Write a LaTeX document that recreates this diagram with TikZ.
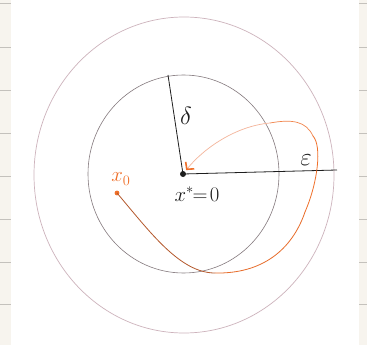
\documentclass[tikz,border=0pt]{standalone}
\usepackage{xcolor}
\usepackage{amsmath}
\usepackage{tikz}
\usetikzlibrary{arrows.meta,positioning}
\definecolor{paper}{HTML}{F7F4EE}
\definecolor{rule}{HTML}{C4C1BC}
\definecolor{inkgray}{HTML}{857A7E}
\definecolor{inkpink}{HTML}{CDB3BC}
\definecolor{ink}{HTML}{1E1E1E}
\definecolor{orangeink}{HTML}{F0702A}
\definecolor{rustink}{HTML}{B4582C}
\definecolor{paleorange}{HTML}{F4B49A}

\begin{document}
\begin{tikzpicture}[x=1pt,y=-1pt]
\useasboundingbox (0,0) rectangle (367,345);
\fill[paper] (0,0) rectangle (367,345);
\fill[white] (11,0) rectangle (359,345);
\foreach \y in {3,47,90,133,176,219,262,304} {
  \draw[rule,line width=0.7pt] (0,\y) -- (11,\y);
  \draw[rule,line width=0.7pt] (359,\y) -- (367,\y);
}
\draw[inkpink,line width=0.7pt] (184,175) ellipse [x radius=150,y radius=158];
\draw[inkgray,line width=0.6pt] (183.5,174) ellipse [x radius=95.5,y radius=99];
\fill[ink] (183,174) circle (3);
\node[inner sep=0pt] (o) at (183,174) {};
\coordinate (dtop) at (168,75);
\coordinate (eend) at (337,170);
\draw[ink,line width=0.8pt] (o.center) -- (dtop);
\draw[ink,line width=0.8pt] (o.center) -- (eend);
\node[font=\fontsize{24}{24}\selectfont,ink] (dlab) at (186,116) {$\delta$};
\node[font=\fontsize{24}{24}\selectfont,ink] (elab) at (306,160) {$\varepsilon$};
\node[font=\fontsize{20}{20}\selectfont,ink] (olab) at (197,194) {$x^{*}\!\!=\!0$};
\fill[orangeink] (117,193) circle (2.4);
\node[inner sep=0pt] (x0) at (117,193) {};
\node[font=\fontsize{20}{20}\selectfont,orangeink] (x0lab) at (121,179) {$x_0$};
\coordinate (t1) at (215,273);
\coordinate (t2) at (305,212);
\coordinate (t3) at (313,136);
\coordinate (t4) at (270,123);
\draw[rustink,line width=0.8pt] (x0.center) .. controls (150,232) and (180,273) .. (t1);
\draw[orangeink!85!rustink,line width=0.8pt] (t1) .. controls (262,274) and (292,250) .. (t2);
\draw[orangeink,line width=0.8pt] (t2) .. controls (318,182) and (322,146) .. (t3);
\draw[orangeink!70!paleorange,line width=0.7pt] (t3) .. controls (306,121) and (292,119) .. (t4);
\draw[paleorange,line width=0.7pt,shorten >=5pt,
  -{Straight Barb[color=orangeink,length=5pt,width=11pt,line width=1.6pt]}]
  (t4) .. controls (236,126) and (204,148) .. (o.center);
\end{tikzpicture}
\end{document}
